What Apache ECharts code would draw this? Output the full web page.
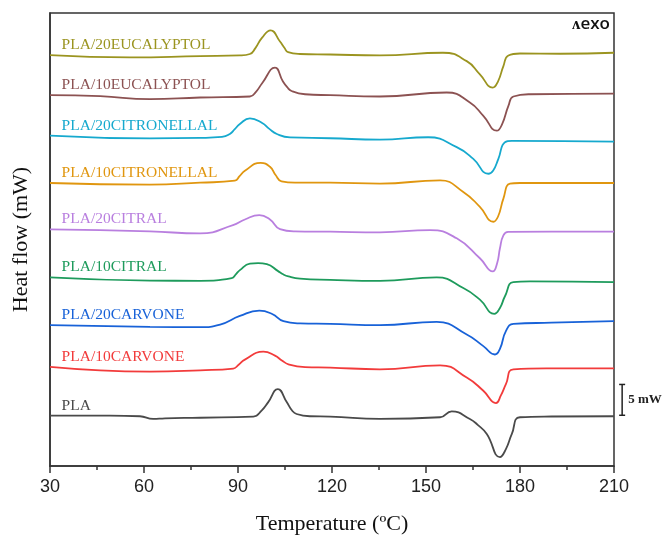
<!DOCTYPE html>
<html>
<head>
<meta charset="utf-8">
<script src="https://cdn.jsdelivr.net/npm/echarts@6/dist/echarts.min.js"></script>
<style>
  html, body { margin: 0; padding: 0; background: #fff; }
  #chart { width: 670px; height: 540px; }
</style>
</head>
<body>
<div id="chart"></div>
<script>
// sample names, bottom to top
const names = ['PLA', 'PLA/10CARVONE', 'PLA/20CARVONE', 'PLA/10CITRAL', 'PLA/20CITRAL',
  'PLA/10CITRONELLAL', 'PLA/20CITRONELLAL', 'PLA/10EUCALYPTOL', 'PLA/20EUCALYPTOL'];
const colors = ['#4a4a4a', '#f23b3b', '#1862d8', '#1e9b5c', '#b97fdf',
  '#e0960f', '#16a9ce', '#8c5252', '#9b9420'];
// vertical shift of each curve (mW)
const offsets = [8.18, 16.08, 22.85, 30.6, 38.39, 45.92, 53.6, 60.16, 66.66];

// [temperature °C, heat flow relative to start (mW)]
const pla = [[30, 0], [49.1, 0], [58.7, -0.11], [62.9, -0.55], [66.7, -0.44], [77.9, -0.35], [94.9, -0.16],
  [97.6, 0.86], [99.6, 2.15], [102.7, 4.29], [105.6, 2.15], [107.2, 0.86], [108.7, 0.26], [113, -0.11],
  [119.4, -0.16], [135.3, -0.55], [154.5, -0.27], [158.2, 0.69], [164, -0.55], [166.5, -1.5],
  [169.4, -2.97], [173.6, -6.73], [175.5, -5.44], [177.4, -2.97], [180, -0.27], [190, -0.15], [210, -0.11]];
const carvone10 = [[30, 0], [61.9, -0.76], [77.9, -0.55], [88.5, -0.27], [90.3, 0.4], [92.2, 1.18],
  [98.1, 2.47], [101.8, 1.82], [104, 1.05], [106.1, 0.42], [111.4, -0.03], [119.4, -0.11], [135.3, -0.39],
  [154.5, 0.26], [163, -1.73], [168.3, -3.87], [172.3, -5.87], [173.9, -4.63], [175.5, -2.81],
  [177.9, -0.39], [190, -0.25], [210, -0.23]];
const carvone20 = [[30, 0], [61.9, -0.27], [77.9, -0.32], [84.3, 0.1], [90.6, 1.5], [96.8, 2.35],
  [100.9, 1.82], [104.5, 0.65], [109.8, 0.29], [119.4, 0.21], [135.3, 0], [153.4, 0.53], [163, -1.52],
  [168.3, -3.4], [172, -4.76], [173.6, -3.84], [175.5, -0.97], [177.9, 0.21], [190, 0.4], [210, 0.65]];
const citral10 = [[30, 0], [61.9, -0.52], [77.9, -0.55], [88, -0.11], [89.3, 0.5], [90.6, 1.18],
  [93.8, 2.23], [96.4, 2.31], [99.2, 2.15], [102.8, 1.02], [104.4, 0.5], [106.1, 0.16], [109.8, -0.19],
  [119.4, -0.39], [135.3, -0.55], [153.4, 0], [161.9, -1.73], [167.2, -3.61], [171.8, -5.92],
  [173.6, -4.95], [175.2, -3.06], [177.9, -0.76], [183.2, -0.65], [210, -0.76]];
const citral20 = [[30, 0], [61.9, -0.32], [77.9, -0.65], [88.4, 0.69], [92.2, 1.61], [96.8, 2.31],
  [100.2, 1.61], [103.4, 0.05], [108.2, -0.32], [119.4, -0.37], [135.3, -0.48], [151.3, -0.11],
  [159.8, -1.45], [167.2, -4.68], [171.3, -6.82], [172.7, -5.48], [173.6, -3.06], [174.7, -0.97],
  [176.2, -0.4], [190, -0.35], [210, -0.37]];
const citronellal10 = [[30, 0], [61.9, -0.27], [77.9, 0.05], [89, 0.37], [90.5, 1.1], [92.2, 1.98],
  [97.2, 3.27], [100.2, 2.63], [102, 1.3], [103.9, 0.26], [108.2, 0.05], [119.4, 0.05], [135.3, -0.11],
  [154.5, 0.42], [161.9, -1.45], [167.2, -3.87], [171.5, -6.29], [173, -5.44], [174.7, -2.53],
  [176.8, -0.11], [180, 0], [210, 0]];
const citronellal20 = [[30, 0], [61.9, -0.45], [77.9, -0.37], [84.9, -0.21], [87.4, 0.27], [88.9, 1.0],
  [90.6, 1.89], [93.8, 2.81], [97.7, 2.06], [100, 1.1], [102.4, 0.27], [106.6, -0.29], [119.4, -0.42],
  [135.3, -0.65], [150.7, -0.26], [159.8, -1.87], [165.1, -3.76], [169.9, -6.18], [171.4, -5.69],
  [173.1, -3.76], [175.2, -1.06], [177.4, -0.85], [210, -0.97]];
const eucalyptol10 = [[30, 0], [46, -0.16], [61.9, -0.65], [77.9, -0.37], [93.8, -0.21], [95.8, 0.6],
  [97.7, 1.94], [101.8, 4.47], [104.3, 2.26], [105.7, 1.3], [107.1, 0.69], [111.4, 0.16], [119.4, 0],
  [135.3, -0.21], [156.6, 0.44], [164, -1.18], [168.3, -3.34], [172.6, -5.76], [174.3, -4.68],
  [176.3, -1.73], [177.9, -0.21], [183.2, 0.16], [210, 0.27]];
const eucalyptol20 = [[30, 0], [55.5, -0.37], [77.9, -0.16], [90.6, -0.05], [93.8, 0.19], [95.5, 1.1],
  [97.7, 2.85], [100.4, 4.03], [103.4, 2.21], [104.8, 1.2], [106, 0.48], [109.8, 0.19], [119.4, 0.11],
  [135.3, -0.05], [155.4, 0.39], [163, -0.97], [167.2, -3.11], [171.3, -5.26], [173, -4.24],
  [174.7, -1.77], [176.3, -0.05], [180, 0.27], [192.8, 0.23], [210, 0.39]];
const curves = [pla, carvone10, carvone20, citral10, citral20, citronellal10, citronellal20,
  eucalyptol10, eucalyptol20];

const xTicks = [30, 60, 90, 120, 150, 180, 210];
const labelTemp = 33.7;
// 5 mW scale bar
const scaleBar = { temp: 212.6, from: 8.23, span: 5 };

const chart = echarts.init(document.getElementById('chart'), null, { renderer: 'canvas' });

const series = curves.map((pts, i) => ({
  name: names[i],
  type: 'line',
  smooth: 0.5,
  showSymbol: false,
  symbol: 'none',
  lineStyle: { color: colors[i], width: 1.8 },
  data: pts.map(p => [p[0], offsets[i] + p[1]]),
  markPoint: {
    symbol: 'circle',
    symbolSize: 0,
    silent: true,
    data: [{ coord: [labelTemp, offsets[i]] }],
    label: {
      show: true,
      formatter: names[i],
      position: [0, -2],
      align: 'left',
      verticalAlign: 'bottom',
      color: colors[i],
      fontFamily: 'Liberation Serif',
      fontSize: 15.5
    }
  }
}));

series.push({
  type: 'custom',
  clip: false,
  silent: true,
  data: [[scaleBar.temp, scaleBar.from, scaleBar.from + scaleBar.span]],
  renderItem: (params, api) => {
    const lo = api.coord([api.value(0), api.value(1)]);
    const hi = api.coord([api.value(0), api.value(2)]);
    const st = { stroke: '#222', lineWidth: 1.5 };
    return {
      type: 'group',
      children: [
        { type: 'line', shape: { x1: lo[0], y1: lo[1], x2: hi[0], y2: hi[1] }, style: st },
        { type: 'line', shape: { x1: lo[0] - 3, y1: lo[1], x2: lo[0] + 3, y2: lo[1] }, style: st },
        { type: 'line', shape: { x1: hi[0] - 3, y1: hi[1], x2: hi[0] + 3, y2: hi[1] }, style: st },
        { type: 'text', style: { text: '5 mW', x: lo[0] + 6, y: (lo[1] + hi[1]) / 2,
          verticalAlign: 'middle', fill: '#222', font: 'bold 13px "Liberation Serif"' } }
      ]
    };
  }
});

chart.setOption({
  animation: false,
  backgroundColor: '#fff',
  grid: { left: 50, right: 56, top: 13, bottom: 71, show: true, borderColor: '#333', borderWidth: 1.5 },
  xAxis: {
    type: 'value',
    min: 30,
    max: 210,
    interval: 30,
    name: 'Temperature (ºC)',
    nameLocation: 'middle',
    nameGap: 47,
    nameTextStyle: { fontFamily: 'Liberation Serif', fontSize: 22, color: '#111' },
    axisLine: { show: true, lineStyle: { color: '#333', width: 1.5 } },
    axisTick: { show: true, inside: false, length: 7, lineStyle: { color: '#333', width: 1.5 } },
    minorTick: { show: true, splitNumber: 2, length: 4, lineStyle: { color: '#333', width: 1.5 } },
    axisLabel: {
      margin: 12,
      fontFamily: 'Liberation Sans',
      fontSize: 18,
      color: '#222',
      formatter: v => (xTicks.indexOf(v) >= 0 ? String(v) : '')
    },
    splitLine: { show: false }
  },
  yAxis: {
    type: 'value',
    min: 0,
    max: 73.5,
    name: 'Heat flow (mW)',
    nameLocation: 'middle',
    nameGap: 18,
    nameTextStyle: { fontFamily: 'Liberation Serif', fontSize: 22, color: '#111' },
    axisLine: { show: true, lineStyle: { color: '#333', width: 1.5 } },
    axisTick: { show: false },
    axisLabel: { show: false },
    splitLine: { show: false }
  },
  graphic: [{
    type: 'text',
    right: 60,
    top: 16,
    style: { text: 'ʌexo', fill: '#111', font: '600 17px "Open Sans"' }
  }],
  series: series
});
</script>
</body>
</html>
